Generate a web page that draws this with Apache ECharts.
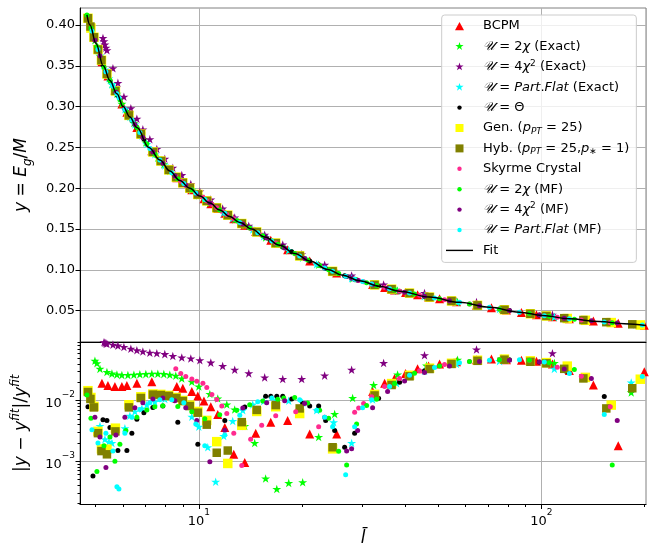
<!DOCTYPE html>
<html>
<head>
<meta charset="UTF-8" />
<title></title>
<style type="text/css">
  * { margin: 0; padding: 0; }
  #main { width: 658px; height: 548px; background-color: #fff; }
</style>
</head>
<body>
<div id="main"></div>
<script src="https://cdn.jsdelivr.net/npm/echarts@6.0.0/dist/echarts.min.js"></script>
<script type="text/javascript">
// x = l-bar, top = E_g/M, res = |y - y_fit| / y_fit
var bcpmX = [5.215,5.430,5.690,5.963,6.167,6.595,7.293,8.625,8.980,9.541,9.934,10.35,10.84,11.36,11.91,12.65,13.62,14.66,16.22,18.17,21.07,25.26,32.16,34.86,37.28,40.13,43.50,46.84,50.43,56.53,64.65,71.48,79.08,87.45,96.71,107.7,120.7,141.8,167.6,199.7]
var bcpmY = [0.3549,0.3374,0.3204,0.3033,0.2930,0.2744,0.2458,0.2129,0.2066,0.1981,0.1923,0.1870,0.1810,0.1750,0.1693,0.1624,0.1547,0.1470,0.1361,0.1247,0.1109,0.0962,0.0821,0.0783,0.0753,0.0723,0.0694,0.0667,0.0644,0.0607,0.0566,0.0536,0.0506,0.0477,0.0450,0.0425,0.0400,0.0372,0.0346,0.0320]
var bcpmR = [0.0192,0.0176,0.0170,0.0170,0.0176,0.0192,0.0204,0.0170,0.0159,0.0141,0.0118,0.0098,0.0079,0.0059,0.0036,0.0013,0.00095,0.0029,0.0044,0.0047,0.0028,0.0028,0.0141,0.0192,0.0230,0.0277,0.0332,0.0370,0.0399,0.0434,0.0468,0.0480,0.0468,0.0460,0.0441,0.0400,0.0312,0.0180,0.0018,0.0298]

var ex2X = [4.975,5.042,5.146,5.393,5.577,5.767,5.963,6.209,6.464,6.729,7.005,7.293,7.593,7.905,8.229,8.567,8.919,9.541,10.00,10.77,11.36,12.07,12.73,13.62,14.56,15.67,16.89,18.30,20.10,22.38,24.92,28.12,32.38,38.04,46.22,56.91,76.46,109.1,182.9]
var ex2Y = [0.3812,0.3737,0.3624,0.3400,0.3273,0.3157,0.3033,0.2911,0.2799,0.2683,0.2561,0.2458,0.2374,0.2292,0.2211,0.2141,0.2075,0.1981,0.1914,0.1819,0.1750,0.1677,0.1616,0.1547,0.1477,0.1395,0.1320,0.1240,0.1151,0.1062,0.0971,0.0893,0.0818,0.0744,0.0672,0.0605,0.0516,0.0422,0.0333]
var ex2R = [0.045,0.041,0.0332,0.0294,0.0277,0.0267,0.0262,0.0262,0.0265,0.0270,0.0272,0.0275,0.0275,0.0272,0.0265,0.0255,0.0230,0.0204,0.0170,0.0128,0.0108,0.0086,0.0071,0.0038,0.0020,0.00052,0.00035,0.00044,0.00045,0.0025,0.0060,0.0110,0.0180,0.0267,0.0375,0.0468,0.0490,0.0414,0.0136]

var ex4X = [5.251,5.287,5.321,5.357,5.393,5.615,5.806,6.045,6.334,6.595,6.866,7.196,7.541,7.957,8.397,8.919,9.477,10.07,10.84,11.74,12.73,13.99,15.57,17.58,19.97,23.30,27.93,34.63,45.59,64.65,107.7]
var ex4Y = [0.384,0.380,0.376,0.372,0.369,0.347,0.329,0.312,0.298,0.285,0.272,0.260,0.248,0.236,0.225,0.216,0.205,0.196,0.186,0.175,0.164,0.154,0.143,0.131,0.119,0.106,0.093,0.082,0.0715,0.0605,0.045]
var ex4R = [0.093,0.091,0.089,0.087,0.086,0.083,0.080,0.076,0.071,0.067,0.064,0.061,0.060,0.058,0.054,0.051,0.049,0.046,0.042,0.037,0.032,0.028,0.024,0.0226,0.0226,0.0257,0.032,0.0414,0.0556,0.0692,0.0598]

var expfX = [5.146,5.321,5.466,5.577,6.085,6.292,6.507,6.820,7.052,7.441,7.957,8.510,8.980,9.541,10.00,10.62,11.20,11.82,12.56,13.44,14.37,15.47,16.77,18.30,20.10,22.08,24.75,27.93,32.16,37.78,45.59,56.53,75.44,109.1,182.9]
var expfY = [0.3624,0.3454,0.3347,0.3273,0.2968,0.2873,0.2781,0.2643,0.2541,0.2416,0.2279,0.2153,0.2066,0.1981,0.1914,0.1836,0.1767,0.1701,0.1631,0.1560,0.1493,0.1410,0.1327,0.1240,0.1151,0.1068,0.0976,0.0897,0.0821,0.0747,0.0677,0.0607,0.0520,0.0422,0.0333]
var expfR = [0.0038,0.0023,0.0021,0.0020,0.0035,0.0056,0.0066,0.0074,0.0085,0.0095,0.0106,0.0110,0.0100,0.0054,0.0037,0.0017,0.00046,0.0026,0.0046,0.0069,0.0086,0.0098,0.0103,0.0099,0.0092,0.0069,0.0044,0.0020,0.0104,0.0192,0.0309,0.0400,0.0445,0.0332,0.0198]

var thetaX = [4.747,4.909,5.251,5.393,5.503,5.806,6.167,6.377,6.595,6.913,7.343,7.852,8.684,9.934,11.91,13.62,15.67,16.22,16.89,17.58,18.67,20.10,21.07,22.38,23.46,24.92,26.65,28.50,33.48,38.55,45.59,53.93,65.95,80.67,98.66,118.2,152.6]
var thetaY = [0.4082,0.3887,0.3511,0.3400,0.3320,0.3132,0.2930,0.2836,0.2744,0.2602,0.2444,0.2306,0.2118,0.1923,0.1693,0.1547,0.1395,0.1361,0.1320,0.1280,0.1220,0.1151,0.1109,0.1062,0.1016,0.0971,0.0926,0.0885,0.0801,0.0738,0.0677,0.0622,0.0560,0.0500,0.0445,0.0404,0.0360]
var thetaR = [0.0079,0.00057,0.0048,0.0047,0.0036,0.0015,0.0015,0.0029,0.0049,0.0063,0.0077,0.0081,0.0044,0.0019,0.0047,0.0078,0.0117,0.0117,0.0117,0.0117,0.0106,0.0089,0.0081,0.0081,0.0047,0.0032,0.0017,0.0029,0.0109,0.0200,0.0310,0.0400,0.0460,0.0470,0.0430,0.0303,0.0116]

var genX = [4.747,4.843,4.942,5.077,5.198,5.393,5.709,6.251,6.774,7.343,7.747,8.174,8.596,8.980,9.414,9.934,10.55,11.28,12.15,13.35,14.76,16.77,19.70,24.58,32.59,36.54,41.22,47.16,54.66,65.09,78.01,92.88,103.4,119.0,134.4,159.9,194.4]
var genY = [0.4082,0.3962,0.3849,0.3699,0.3568,0.3400,0.3192,0.2892,0.2663,0.2444,0.2333,0.2224,0.2135,0.2066,0.2000,0.1923,0.1844,0.1759,0.1669,0.1567,0.1463,0.1327,0.1170,0.0981,0.0815,0.0762,0.0714,0.0665,0.0618,0.0564,0.0510,0.0461,0.0434,0.0403,0.0381,0.0353,0.0324]
var genR = [0.0145,0.0112,0.0080,0.0031,0.0016,0.00158,0.0035,0.0085,0.0115,0.0128,0.0126,0.0121,0.0112,0.0100,0.0084,0.0066,0.0047,0.0021,0.00092,0.0039,0.0066,0.0079,0.0061,0.0016,0.0126,0.019,0.026,0.034,0.041,0.046,0.048,0.045,0.042,0.0368,0.0240,0.0084,0.0224]

var hybX = [4.747,4.827,4.942,5.077,5.198,5.393,5.709,6.251,6.774,7.343,7.747,8.174,8.596,8.980,9.414,9.934,10.55,11.28,12.15,13.35,14.76,16.77,19.70,24.58,32.59,36.54,41.22,47.16,54.66,65.09,78.01,92.88,103.4,116.6,132.6,154.7,184.2]
var hybY = [0.4082,0.3981,0.3849,0.3699,0.3568,0.3400,0.3192,0.2892,0.2663,0.2444,0.2333,0.2224,0.2135,0.2066,0.2000,0.1923,0.1844,0.1759,0.1669,0.1567,0.1463,0.1327,0.1170,0.0981,0.0815,0.0762,0.0714,0.0665,0.0618,0.0564,0.0510,0.0461,0.0434,0.0407,0.0384,0.0358,0.0332]
var hybR = [0.0138,0.0106,0.0077,0.0029,0.00147,0.0013,0.0031,0.0077,0.0110,0.0125,0.0123,0.0119,0.0110,0.0098,0.0081,0.0063,0.0040,0.00138,0.0015,0.0044,0.0070,0.0084,0.0074,0.0017,0.0121,0.018,0.025,0.033,0.040,0.045,0.047,0.0434,0.0409,0.0332,0.0231,0.0074,0.0159]

var skyX = [8.567,8.859,9.161,9.541,9.866,10.28,10.55,10.92,11.28,11.67,12.07,12.65,13.35,14.17,15.26,16.77,19.18,22.38,28.50,29.28,30.27,31.95,34.86,38.55,44.09,52.15,61.68,75.44,92.26,111.3,130.8,158.9]
var skyY = [0.2141,0.2085,0.2038,0.1981,0.1933,0.1887,0.1845,0.1802,0.1759,0.1717,0.1677,0.1624,0.1567,0.1507,0.1425,0.1327,0.1194,0.1062,0.0885,0.0869,0.0852,0.0825,0.0783,0.0738,0.0689,0.0633,0.0581,0.0520,0.0463,0.0418,0.0386,0.0354]
var skyR = [0.0332,0.0277,0.0248,0.0226,0.0208,0.0192,0.0163,0.0125,0.0104,0.0081,0.0061,0.0029,0.00085,0.0023,0.0039,0.0056,0.0065,0.0037,0.0064,0.0075,0.0089,0.0115,0.017,0.023,0.031,0.039,0.044,0.047,0.046,0.0354,0.0251,0.0079]

var mf2X = [4.715,4.843,5.042,5.287,5.503,5.690,5.884,6.126,6.595,7.052,7.441,7.852,8.684,9.541,10.41,11.51,12.90,14.08,15.37,17.00,17.70,19.05,20.79,22.53,23.94,25.60,27.01,28.88,30.89,33.03,37.28,42.63,50.43,61.68,75.44,92.26,105.5,124.8,161.0]
var mf2Y = [0.4123,0.3962,0.3737,0.3481,0.3320,0.3204,0.3083,0.2949,0.2744,0.2541,0.2416,0.2306,0.2117,0.1981,0.1862,0.1733,0.1602,0.1513,0.1417,0.1314,0.1273,0.1200,0.1121,0.1051,0.0999,0.0953,0.0918,0.0877,0.0842,0.0808,0.0753,0.0702,0.0644,0.0581,0.0520,0.0463,0.0430,0.0394,0.0352]
var mf2R = [0.0123,0.0051,0.00068,0.0018,0.0025,0.0010,0.0019,0.0032,0.0053,0.0070,0.0079,0.0082,0.0080,0.0065,0.0050,0.0058,0.0069,0.0085,0.0098,0.0105,0.0110,0.0112,0.0091,0.0069,0.0051,0.00146,0.00087,0.0041,0.0083,0.0105,0.019,0.028,0.037,0.044,0.047,0.046,0.042,0.0325,0.00087]

var mf4X = [4.975,5.146,5.357,5.728,6.085,6.507,6.866,7.343,7.852,8.510,9.161,9.866,10.77,11.91,13.44,15.78,17.81,20.37,23.30,27.01,27.93,29.08,32.16,35.57,39.87,45.59,53.93,65.95,80.67,98.66,116.6,139.9,166.5]
var mf4Y = [0.3812,0.3624,0.3427,0.3180,0.2968,0.2781,0.2622,0.2444,0.2306,0.2153,0.2038,0.1933,0.1819,0.1693,0.1560,0.1388,0.1267,0.1139,0.1022,0.0918,0.0897,0.0873,0.0821,0.0774,0.0726,0.0677,0.0622,0.0560,0.0500,0.0445,0.0407,0.0374,0.0347]
var mf4R = [0.0053,0.0025,0.00079,0.0027,0.0053,0.0076,0.0092,0.0106,0.0110,0.0099,0.0076,0.0047,0.00098,0.00325,0.0075,0.0092,0.0099,0.0089,0.0053,0.00147,0.0016,0.0032,0.0076,0.014,0.021,0.029,0.037,0.044,0.046,0.043,0.033,0.0231,0.0047]

var mfpfX = [4.876,5.077,5.357,5.615,5.767,5.845,6.085,6.377,6.729,7.196,7.695,8.340,9.040,9.800,10.41,11.91,13.17,14.86,16.33,19.70,22.08,23.30,24.58,26.83,28.50,30.07,31.95,36.05,41.22,48.77,57.67,70.53,86.29,102.0,120.7,152.6,197.0]
var mfpfY = [0.3925,0.3699,0.3427,0.3250,0.3157,0.3107,0.2968,0.2836,0.2683,0.2486,0.2346,0.2188,0.2056,0.1942,0.1862,0.1693,0.1580,0.1455,0.1354,0.1170,0.1068,0.1022,0.0981,0.0922,0.0885,0.0855,0.0825,0.0768,0.0714,0.0654,0.0601,0.0540,0.0480,0.0437,0.0400,0.0360,0.0322]
var mfpfR = [0.0033,0.0020,0.0029,0.00147,0.00038,0.00035,0.0029,0.0053,0.0071,0.0092,0.0103,0.0103,0.0092,0.0041,0.0018,0.0027,0.0057,0.0095,0.0110,0.0103,0.0069,0.0053,0.0037,0.00060,0.0037,0.0076,0.0103,0.017,0.026,0.035,0.042,0.046,0.047,0.043,0.0277,0.0059,0.0248]

var fitX = [4.715,4.811,5.010,5.261,5.503,5.767,6.016,6.292,6.595,7.148,7.695,8.229,8.800,9.414,10.07,10.77,11.51,12.31,13.17,14.27,15.57,17.23,19.05,21.07,23.78,26.30,29.47,33.71,38.55,47.16,57.67,70.53,86.29,100.7,120.7,147.6,174.6,202]
var fitY = [0.4123,0.400,0.3774,0.350,0.332,0.3157,0.300,0.2873,0.2744,0.250,0.2346,0.2211,0.2094,0.200,0.1904,0.1819,0.1733,0.1653,0.1580,0.150,0.1402,0.1300,0.1200,0.1109,0.1004,0.0934,0.0865,0.0798,0.0738,0.0665,0.0601,0.0540,0.0480,0.0440,0.0400,0.0365,0.0340,0.0318]

var topTicks = [0.05, 0.10, 0.15, 0.20, 0.25, 0.30, 0.35, 0.40]
var xMajor = [10, 100]
var xMinor = [5, 6, 7, 8, 9, 20, 30, 40, 50, 60, 70, 80, 90, 200]
var resMajor = [0.001, 0.01]
var resMinor = [0.0002,0.0003,0.0004,0.0005,0.0006,0.0007,0.0008,0.0009,0.002,0.003,0.004,0.005,0.006,0.007,0.008,0.009,0.02,0.03,0.04,0.05,0.06,0.07,0.08,0.09]

var xMin = 4.5, xMax = 202
var topMin = 0.0115, topMax = 0.4208
var resMin = 0.000194, resMax = 0.0918

var FONT = "'DejaVu Sans', sans-serif"
var STAR = 'path://M0,-1L0.2245,-0.309L0.9511,-0.309L0.3633,0.118L0.5878,0.809L0,0.382L-0.5878,0.809L-0.3633,0.118L-0.9511,-0.309L-0.2245,-0.309Z'
// legend icons live in a 32x10 box, marker centred at x=13.5
var BOX = 'path://M0,0M32,10'
var ICON = {
  tri: BOX + 'M9,9.2L18,9.2L13.5,1Z',
  star: BOX + 'M13.5,0.7L14.47,3.67L17.59,3.67L15.06,5.51L16.03,8.48L13.5,6.64L10.97,8.48L11.94,5.51L9.41,3.67L12.54,3.67Z',
  dot: BOX + 'M11.3,5A2.2,2.2,0,1,0,15.7,5A2.2,2.2,0,1,0,11.3,5Z',
  sq: BOX + 'M9.5,1H17.5V9H9.5Z',
  line: BOX + 'M0,4.3H27V5.7H0Z'
}

var groups = [
  { name: 'BCPM', x: bcpmX, y: bcpmY, r: bcpmR, symbol: 'triangle', size: 9, color: '#ff0000', icon: ICON.tri },
  { name: 'U2x', x: ex2X, y: ex2Y, r: ex2R, symbol: STAR, size: [9, 8.6], color: '#00ff00', icon: ICON.star },
  { name: 'U4x2', x: ex4X, y: ex4Y, r: ex4R, symbol: STAR, size: [9, 8.6], color: '#800080', icon: ICON.star },
  { name: 'UPF', x: expfX, y: expfY, r: expfR, symbol: STAR, size: [9, 8.6], color: '#00ffff', icon: ICON.star },
  { name: 'UTheta', x: thetaX, y: thetaY, r: thetaR, symbol: 'circle', size: 5, color: '#000000', icon: ICON.dot },
  { name: 'Gen', x: genX, y: genY, r: genR, symbol: 'rect', size: 9.5, color: '#ffff00', icon: ICON.sq },
  { name: 'Hyb', x: hybX, y: hybY, r: hybR, symbol: 'rect', size: 8.5, color: '#808000', icon: ICON.sq },
  { name: 'Skyrme', x: skyX, y: skyY, r: skyR, symbol: 'circle', size: 5, color: '#ff2a8f', icon: ICON.dot },
  { name: 'U2xMF', x: mf2X, y: mf2Y, r: mf2R, symbol: 'circle', size: 5, color: '#00ff00', icon: ICON.dot },
  { name: 'U4x2MF', x: mf4X, y: mf4Y, r: mf4R, symbol: 'circle', size: 5, color: '#800080', icon: ICON.dot },
  { name: 'UPFMF', x: mfpfX, y: mfpfY, r: mfpfR, symbol: 'circle', size: 5, color: '#00ffff', icon: ICON.dot }
]

var labels = {
  BCPM: 'BCPM',
  U2x: '{U|𝒰}{n| = 2}{i|χ}{n| (Exact)}',
  U4x2: '{U|𝒰}{n| = 4}{i|χ}{sup|2}{n| (Exact)}',
  UPF: '{U|𝒰}{n| = }{i|Part}{n|.}{i|Flat}{n| (Exact)}',
  UTheta: '{U|𝒰}{n| = Θ}',
  Gen: '{n|Gen. (}{i|p}{sub|PT}{n| = 25)}',
  Hyb: '{n|Hyb. (}{i|p}{sub|PT}{n| = 25,}{i|p}{sub|∗}{n| = 1)}',
  Skyrme: 'Skyrme Crystal',
  U2xMF: '{U|𝒰}{n| = 2}{i|χ}{n| (MF)}',
  U4x2MF: '{U|𝒰}{n| = 4}{i|χ}{sup|2}{n| (MF)}',
  UPFMF: '{U|𝒰}{n| = }{i|Part}{n|.}{i|Flat}{n| (MF)}',
  Fit: 'Fit'
}

function zip(a, b) {
  var out = []
  for (var i = 0; i < a.length; i++) out.push([a[i], b[i]])
  return out
}

var series = []
var legendData = []
groups.forEach(function (g) {
  series.push({
    name: g.name, type: 'scatter', xAxisIndex: 0, yAxisIndex: 0,
    symbol: g.symbol, symbolSize: g.size, itemStyle: { color: g.color, opacity: 1 },
    data: zip(g.x, g.y), silent: true
  })
  series.push({
    name: g.name, type: 'scatter', xAxisIndex: 1, yAxisIndex: 1,
    symbol: g.symbol, symbolSize: g.size, itemStyle: { color: g.color, opacity: 1 },
    data: zip(g.x, g.r), silent: true
  })
  legendData.push({ name: g.name, icon: g.icon })
})
series.push({
  name: 'Fit', type: 'line', xAxisIndex: 0, yAxisIndex: 0,
  data: zip(fitX, fitY), showSymbol: false, symbol: 'none',
  smooth: 0.4, smoothMonotone: 'x',
  lineStyle: { color: '#000', width: 1.5 }, itemStyle: { color: '#000' }, silent: true
})
legendData.push({ name: 'Fit', icon: ICON.line })

var txt = { fontFamily: FONT, color: '#000' }
var supRich = {
  b: { fontFamily: FONT, fontSize: 13, color: '#000', lineHeight: 20, verticalAlign: 'bottom' },
  s: { fontFamily: FONT, fontSize: 9, color: '#000', lineHeight: 12, verticalAlign: 'top' }
}
var nameRich = {
  n: { fontFamily: FONT, fontSize: 17, color: '#000', lineHeight: 24 },
  i: { fontFamily: FONT, fontSize: 17, fontStyle: 'italic', color: '#000', lineHeight: 24 },
  sub: { fontFamily: FONT, fontSize: 12, fontStyle: 'italic', color: '#000', lineHeight: 14, verticalAlign: 'bottom' },
  sup: { fontFamily: FONT, fontSize: 12, fontStyle: 'italic', color: '#000', lineHeight: 14, verticalAlign: 'top' }
}
var gridLine = { show: true, lineStyle: { color: '#b0b0b0', width: 1 } }
var blackLine = { show: true, lineStyle: { color: '#000', width: 1 } }

function minorX(gi) {
  return {
    gridIndex: gi, type: 'log', position: 'bottom', min: xMin, max: xMax,
    axisLine: { show: false }, splitLine: { show: false }, axisLabel: { show: false },
    axisTick: { show: true, customValues: xMinor, length: 2.5, lineStyle: { color: '#000' } }
  }
}

var option = {
  animation: false,
  backgroundColor: '#fff',
  grid: [
    { left: 80, right: 12, top: 8, height: 334, show: true, borderColor: '#808080', borderWidth: 1 },
    { left: 80, right: 12, top: 342, height: 168, show: true, borderColor: '#808080', borderWidth: 1 }
  ],
  xAxis: [
    {
      gridIndex: 0, type: 'log', position: 'bottom', min: xMin, max: xMax,
      axisLine: blackLine, axisTick: { show: false }, axisLabel: { show: false }, splitLine: gridLine
    },
    {
      gridIndex: 1, type: 'log', position: 'bottom', min: xMin, max: xMax,
      axisLine: blackLine,
      axisTick: { show: true, customValues: xMajor, length: 4.5, lineStyle: { color: '#000' } },
      axisLabel: {
        customValues: xMajor, margin: 4,
        formatter: function (v) { return '{b|10}{s|' + Math.round(Math.log10(v)) + '}' },
        rich: supRich
      },
      splitLine: gridLine,
      name: '{i|l\u0304}', nameLocation: 'middle', nameGap: 22,
      nameTextStyle: { rich: nameRich }
    },
    minorX(1)
  ],
  yAxis: [
    {
      gridIndex: 0, type: 'value', position: 'left', min: topMin, max: topMax,
      axisLine: blackLine,
      axisTick: { show: true, customValues: topTicks, length: 4.5, lineStyle: { color: '#000' } },
      axisLabel: {
        customValues: topTicks, fontFamily: FONT, fontSize: 13, color: '#000', margin: 5,
        formatter: function (v) { return v.toFixed(2) }
      },
      splitLine: gridLine,
      name: '{i|y}{n| = }{i|E}{sub|g}{n|/}{i|M}', nameLocation: 'middle', nameGap: 46,
      nameTextStyle: { rich: nameRich }
    },
    {
      gridIndex: 1, type: 'log', position: 'left', min: resMin, max: resMax,
      axisLine: blackLine,
      axisTick: { show: true, customValues: resMajor, length: 4.5, lineStyle: { color: '#000' } },
      axisLabel: {
        customValues: resMajor, margin: 5,
        formatter: function (v) { return '{b|10}{s|\u2212' + (-Math.round(Math.log10(v))) + '}' },
        rich: supRich
      },
      splitLine: gridLine,
      name: '{n||}{i|y}{n| \u2212 }{i|y}{sup|fit}{n||/}{i|y}{sup|fit}', nameLocation: 'middle', nameGap: 46,
      nameTextStyle: { rich: nameRich }
    },
    {
      gridIndex: 1, type: 'log', position: 'left', min: resMin, max: resMax,
      axisLine: { show: false }, splitLine: { show: false }, axisLabel: { show: false },
      axisTick: { show: true, customValues: resMinor, length: 2.5, lineStyle: { color: '#000' } }
    }
  ],
  legend: {
    orient: 'vertical', left: 441.7, top: 15,
    padding: [3, 7, 4, 4.3], itemGap: 4.4, itemWidth: 32, itemHeight: 10,
    backgroundColor: 'rgba(255,255,255,0.8)', borderColor: '#cccccc', borderWidth: 1, borderRadius: 3,
    selectedMode: false,
    data: legendData,
    formatter: function (name) { return labels[name] },
    textStyle: {
      fontFamily: FONT, fontSize: 13, color: '#000', lineHeight: 16,
      rich: {
        n: { fontFamily: FONT, fontSize: 13, color: '#000', lineHeight: 16 },
        i: { fontFamily: FONT, fontSize: 13, fontStyle: 'italic', color: '#000', lineHeight: 16 },
        U: { fontFamily: FONT, fontSize: 13, fontStyle: 'italic', color: '#000', lineHeight: 16 },
        sup: { fontFamily: FONT, fontSize: 9, color: '#000', lineHeight: 10, verticalAlign: 'top' },
        sub: { fontFamily: FONT, fontSize: 9, fontStyle: 'italic', color: '#000', lineHeight: 10, verticalAlign: 'bottom' }
      }
    }
  },
  series: series
}

var chart = echarts.init(document.getElementById('main'), null, { renderer: 'canvas' })
chart.setOption(option)
</script>
</body>
</html>
